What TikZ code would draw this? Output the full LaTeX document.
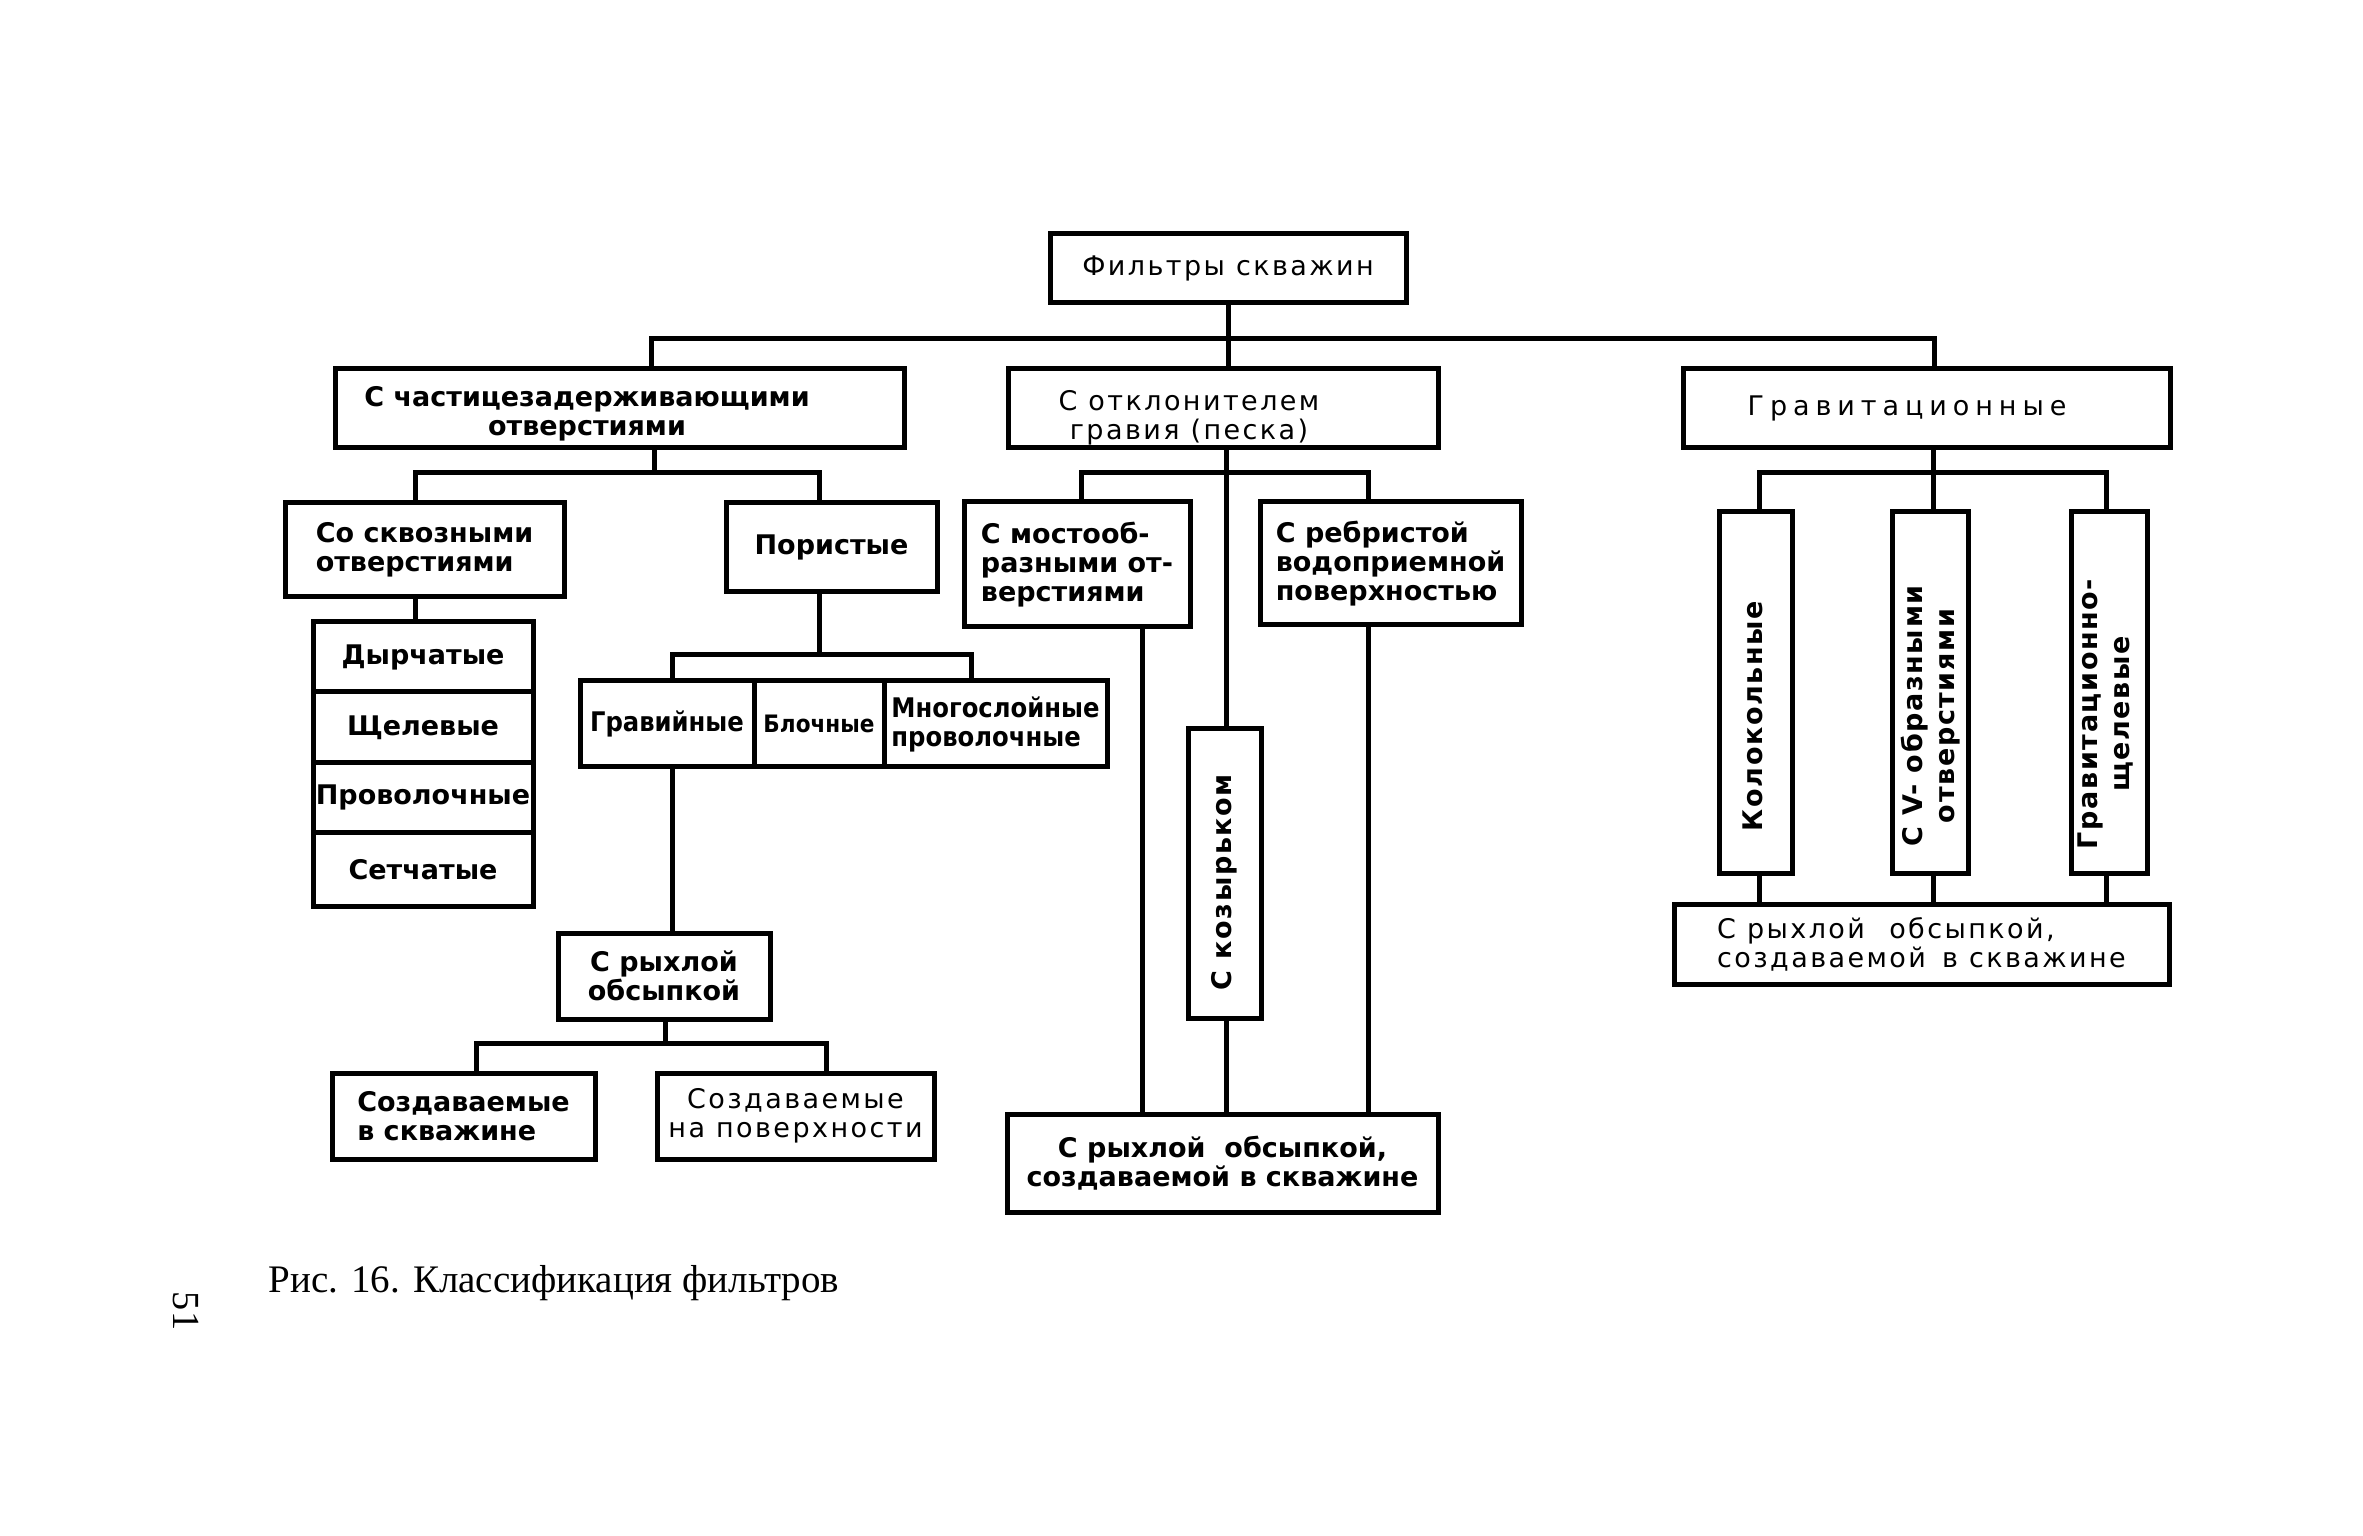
\documentclass[tikz,border=0pt]{standalone}
\usepackage{fontspec}
\usepackage{graphicx}
\setmainfont{DejaVu Sans}
\newfontfamily\fB{DejaVu Sans}
\newfontfamily\fR[LetterSpace=9]{DejaVu Sans}
\newfontfamily\fRw[LetterSpace=22]{DejaVu Sans}
\newfontfamily\fV[LetterSpace=6]{DejaVu Sans}
\newfontfamily\fC{DejaVu Sans Condensed}
\newfontfamily\fS{Liberation Serif}
\tikzset{
  box/.style={draw, line width=1.5pt, inner sep=0pt, align=center},
  wire/.style={line width=1.5pt, line join=miter},
  tb/.style={font=\fontsize{8.1pt}{8.7pt}\fB\bfseries},
  tr/.style={font=\fontsize{8.1pt}{8.7pt}\fR},
  trw/.style={font=\fontsize{8.1pt}{8.7pt}\fRw},
  tc/.style={font=\fontsize{8.1pt}{8.7pt}\fC\bfseries},
  tv/.style={font=\fontsize{8.1pt}{9.6pt}\fV\bfseries, inner sep=0pt, align=center, rotate=90},
  txt/.style={inner sep=0pt, align=center}
}
\begin{document}
\begin{tikzpicture}[x=0.3pt,y=-0.3pt]
\fill[white] (0,0) rectangle (2363,1536);
\useasboundingbox (0,0) rectangle (2363,1536);

% level 0 and 1
\node[box, minimum width=106.8pt, minimum height=20.7pt, tr] (top) at (1228,268.5) {Фильтры скважин};
\node[box, minimum width=170.7pt, minimum height=23.7pt] (b1) at (619.5,408.5) {};
\node[txt, tb] (t1) at (587,414) {С частицезадерживающими\\отверстиями};
\node[box, minimum width=129pt, minimum height=23.7pt] (b2) at (1223,408.5) {};
\node[txt, tr] (t2) at (1189,418) {С отклонителем\\гравия (песка)};
\node[box, minimum width=146.1pt, minimum height=23.7pt] (b3) at (1926.5,408.5) {};
\node[txt, trw] (t3) at (1907,408) {Гравитационные};

% left branch
\node[box, minimum width=83.7pt, minimum height=28.2pt, tb, align=left] (skv) at (424.5,550) {Со сквозными\\отверстиями};
\node[box, minimum width=63.3pt, minimum height=26.7pt, tb] (por) at (831.5,547.5) {Пористые};
\node[box, minimum width=66pt, minimum height=21pt, tb] (d1) at (423,657) {Дырчатые};
\node[box, minimum width=66pt, minimum height=21.3pt, tb] (d2) at (423,727.5) {Щелевые};
\node[box, minimum width=66pt, minimum height=21pt, tb] (d3) at (423,797.5) {Проволочные};
\node[box, minimum width=66pt, minimum height=22.2pt, tb] (d4) at (423,870) {Сетчатые};
\node[box, minimum width=52.2pt, minimum height=25.8pt, tc] (g1) at (667,724) {Гравийные};
\node[box, minimum width=39pt, minimum height=25.8pt, font=\fontsize{7.2pt}{8.7pt}\fC\bfseries] (g2) at (819,724) {Блочные};
\node[box, minimum width=66.9pt, minimum height=25.8pt, tc, align=left] (g3) at (995.5,724) {Многослойные\\проволочные};
\node[box, minimum width=63.6pt, minimum height=25.8pt, tb] (ryx) at (664,976) {С рыхлой\\обсыпкой};
\node[box, minimum width=78.9pt, minimum height=25.8pt, tb, align=left] (s1) at (463.5,1116) {Создаваемые\\в скважине};
\node[box, minimum width=83.1pt, minimum height=25.8pt, tr] (s2) at (795.5,1116) {Создаваемые\\на поверхности};

% middle branch
\node[box, minimum width=67.8pt, minimum height=37.5pt, tb, align=left] (most) at (1077,564.5) {С мостооб-\\разными от-\\верстиями};
\node[box, minimum width=78.3pt, minimum height=36.9pt, tb, align=left] (reb) at (1390.5,563.5) {С ребристой\\водоприемной\\поверхностью};
\node[box, minimum width=21.9pt, minimum height=87pt] (koz) at (1224.5,874) {};
\node[tv] (kozt) at (1224,882) {С козырьком};
\node[box, minimum width=129.3pt, minimum height=29.4pt, tb] (bot) at (1222.5,1163) {С рыхлой\hspace{0.7em}обсыпкой,\\создаваемой в скважине};

% right branch
\node[box, minimum width=21.9pt, minimum height=108.6pt] (kol) at (1755.5,693) {};
\node[tv] (kolt) at (1753,716) {Колокольные};
\node[box, minimum width=22.8pt, minimum height=108.6pt] (vob) at (1930,693) {};
\node[tv] (vobt) at (1931,716) {С V- образными\\отверстиями};
\node[box, minimum width=22.8pt, minimum height=108.6pt] (grs) at (2109,693) {};
\node[tv] (grst) at (2106,714) {Гравитационно-\\щелевые};
\node[box, minimum width=148.5pt, minimum height=24pt, tr, align=left] (rbot) at (1921.5,944) {С рыхлой\hspace{0.9em}обсыпкой,\\создаваемой\hspace{0.6em}в скважине};

% caption and page number
\node[inner sep=0pt, anchor=base west, font=\fontsize{11.7pt}{14pt}\fS] (cap) at (268,1292) {Рис. 16. Классификация фильтров};
\node[inner sep=0pt, rotate=-90, font=\fontsize{11.5pt}{14pt}\fS] (pg) at (186,1311) {51};

% connectors: level 0 -> 1
\coordinate (j1) at (651,339);
\coordinate (j3) at (1934,339);
\draw[wire] (top.south) -- (top.south |- b2.north);
\draw[wire] (j1 |- b1.north) -- (j1) -- (j3) -- (j3 |- b3.north);

% b1 children
\coordinate (k0) at (654,473);
\coordinate (k1) at (415,473);
\coordinate (k2) at (819,473);
\draw[wire] (b1.south -| k0) -- (k0);
\draw[wire] (k1 |- skv.north) -- (k1) -- (k2) -- (k2 |- por.north);
\draw[wire] (skv.south -| k1) -- (d1.north -| k1);

% porous children
\coordinate (m0) at (819,655);
\coordinate (m1) at (672,655);
\coordinate (m2) at (971,655);
\draw[wire] (por.south -| m0) -- (m0);
\draw[wire] (m1 |- g1.north) -- (m1) -- (m2) -- (m2 |- g3.north);
\draw[wire] (g1.south -| m1) -- (ryx.north -| m1);

% loose fill children
\coordinate (n0) at (665,1043);
\coordinate (n1) at (476,1043);
\coordinate (n2) at (826,1043);
\draw[wire] (ryx.south -| n0) -- (n0);
\draw[wire] (n1 |- s1.north) -- (n1) -- (n2) -- (n2 |- s2.north);

% b2 children
\coordinate (p0) at (1226,473);
\coordinate (p1) at (1081,473);
\coordinate (p2) at (1368,473);
\coordinate (q1) at (1142,1000);
\draw[wire] (b2.south -| p0) -- (koz.north -| p0);
\draw[wire] (koz.south -| p0) -- (bot.north -| p0);
\draw[wire] (p1 |- most.north) -- (p1) -- (p2) -- (p2 |- reb.north);
\draw[wire] (most.south -| q1) -- (bot.north -| q1);
\draw[wire] (reb.south -| p2) -- (bot.north -| p2);

% b3 children
\coordinate (r0) at (1933,473);
\coordinate (r1) at (1759,473);
\coordinate (r2) at (2106,473);
\draw[wire] (b3.south -| r0) -- (r0 |- vob.north);
\draw[wire] (r1 |- kol.north) -- (r1) -- (r2) -- (r2 |- grs.north);
\draw[wire] (kol.south -| r1) -- (rbot.north -| r1);
\draw[wire] (vob.south -| r0) -- (rbot.north -| r0);
\draw[wire] (grs.south -| r2) -- (rbot.north -| r2);
\end{tikzpicture}
\end{document}
